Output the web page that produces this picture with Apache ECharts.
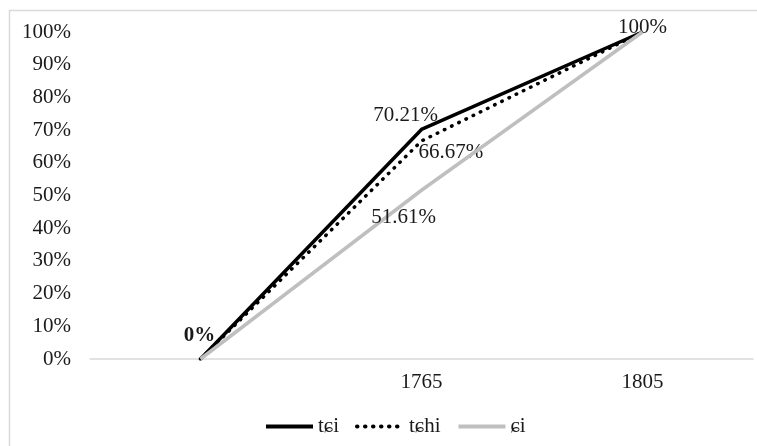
<!DOCTYPE html>
<html>
<head>
<meta charset="utf-8">
<script src="https://cdn.jsdelivr.net/npm/echarts@6/dist/echarts.min.js"></script>
<style>html,body{margin:0;padding:0;background:#fff}#c{width:757px;height:446px}</style>
</head>
<body>
<div id="c"></div>
<script>
const categories = ['', '1765', '1805'];
const seriesNames = ['tɕi', 'tɕhi', 'ɕi'];
const tei = [0, 70.21, 100];
const tehi = [0, 66.67, 100];
const ei = [0, 51.61, 100];
const yTicks = [0, 10, 20, 30, 40, 50, 60, 70, 80, 90, 100];

const FONT = '"Liberation Serif", "Times New Roman", serif';
const TXT = '#1a1a1a';
const FS = 21;

// label placement per series per point (null = no label)
const labelCfg = [
  [{position: 'top', offset: [-1, -8], fontWeight: 'bold'}, {position: 'top', offset: [-16, 2]}, null],
  [null, {position: 'right', offset: [-8, 11]}, {position: 'top', offset: [0, 11]}],
  [null, {position: 'bottom', offset: [-18, 12]}, null]
];

function build(vals, si) {
  return vals.map((v, i) => {
    const c = labelCfg[si][i];
    return {
      value: v,
      label: c ? Object.assign({show: true}, c) : {show: false}
    };
  });
}

const chart = echarts.init(document.getElementById('c'), null, {renderer: 'canvas'});
const baseLabel = {
  show: false,
  fontFamily: FONT, fontSize: FS, color: TXT,
  formatter: p => p.value + '%'
};
chart.setOption({
  animation: false,
  backgroundColor: '#fff',
  graphic: [{
    type: 'rect', silent: true, z: -10,
    shape: {x: 9.5, y: 10.5, width: 800, height: 500},
    style: {fill: 'none', stroke: '#D9D9D9', lineWidth: 1.5}
  }],
  grid: {left: 90, right: 4, top: 32, bottom: 87, containLabel: false},
  legend: {
    left: 259, top: 411,
    itemWidth: 47, itemHeight: 14, itemGap: 16,
    itemStyle: {opacity: 0},
    lineStyle: {width: 4},
    textStyle: {fontFamily: FONT, fontSize: FS, color: TXT},
    data: seriesNames
  },
  xAxis: {
    type: 'category', data: categories, boundaryGap: true,
    axisLine: {lineStyle: {color: '#D9D9D9', width: 1.5}},
    axisTick: {show: false},
    axisLabel: {fontFamily: FONT, fontSize: FS, color: TXT, margin: 13}
  },
  yAxis: {
    type: 'value', min: yTicks[0], max: yTicks[yTicks.length - 1], interval: 10,
    axisLine: {show: false}, axisTick: {show: false}, splitLine: {show: false},
    axisLabel: {fontFamily: FONT, fontSize: FS, color: TXT, margin: 19, formatter: '{value}%'}
  },
  series: [
    {name: seriesNames[0], type: 'line', data: build(tei, 0), symbol: 'circle', symbolSize: 0,
      lineStyle: {color: '#000', width: 3.5}, itemStyle: {color: '#000'}, label: baseLabel, z: 2},
    {name: seriesNames[1], type: 'line', data: build(tehi, 1), symbol: 'circle', symbolSize: 0,
      lineStyle: {color: '#000', width: 3.5, type: [0.5, 7.5], cap: 'round'}, itemStyle: {color: '#000'}, label: baseLabel, z: 3},
    {name: seriesNames[2], type: 'line', data: build(ei, 2), symbol: 'circle', symbolSize: 0,
      lineStyle: {color: '#BFBFBF', width: 3.5}, itemStyle: {color: '#BFBFBF'}, label: baseLabel, z: 4}
  ]
});
</script>
</body>
</html>
